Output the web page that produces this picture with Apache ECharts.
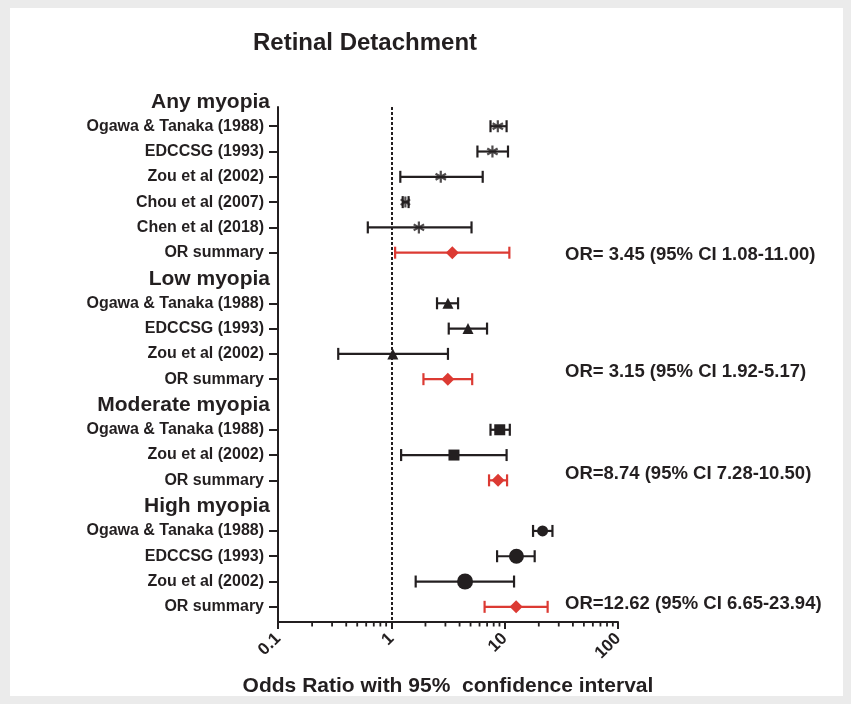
<!DOCTYPE html>
<html>
<head>
<meta charset="utf-8">
<script src="https://cdn.jsdelivr.net/npm/echarts@6/dist/echarts.min.js"></script>
<style>
html,body{margin:0;padding:0;background:#ebebeb;}
#chart{width:851px;height:704px;}
</style>
</head>
<body>
<div id="chart"></div>
<script>
// ---------- data ----------
const chartTitle = 'Retinal Detachment';
const axisTitle = 'Odds Ratio with 95%  confidence interval';
const xTicks = [0.1, 1, 10, 100];
const groupNames = ['Any myopia', 'Low myopia', 'Moderate myopia', 'High myopia'];

const anyStudies = ['Ogawa & Tanaka (1988)', 'EDCCSG (1993)', 'Zou et al (2002)', 'Chou et al (2007)', 'Chen et al (2018)', 'OR summary'];
const anyOR = [8.7, 7.8, 2.73, 1.33, 1.75, 3.45];
const anyLo = [7.5, 5.75, 1.2, 1.26, 0.62, 1.08];
const anyHi = [10.4, 10.7, 6.4, 1.42, 5.1, 11.00];

const lowStudies = ['Ogawa & Tanaka (1988)', 'EDCCSG (1993)', 'Zou et al (2002)', 'OR summary'];
const lowOR = [3.16, 4.75, 1.03, 3.15];
const lowLo = [2.53, 3.21, 0.34, 1.92];
const lowHi = [3.88, 6.99, 3.16, 5.17];

const modStudies = ['Ogawa & Tanaka (1988)', 'Zou et al (2002)', 'OR summary'];
const modOR = [9.05, 3.57, 8.74];
const modLo = [7.5, 1.22, 7.28];
const modHi = [11.1, 10.4, 10.50];

const highStudies = ['Ogawa & Tanaka (1988)', 'EDCCSG (1993)', 'Zou et al (2002)', 'OR summary'];
const highOR = [21.6, 12.7, 4.47, 12.62];
const highLo = [17.8, 8.57, 1.64, 6.65];
const highHi = [26.4, 18.4, 12.1, 23.94];

const summaryText = [
  'OR= 3.45 (95% CI 1.08-11.00)',
  'OR= 3.15 (95% CI 1.92-5.17)',
  'OR=8.74 (95% CI 7.28-10.50)',
  'OR=12.62 (95% CI 6.65-23.94)'
];

// ---------- styling ----------
const BLACK = '#231f20';
const RED = '#dc3a33';
const FONT = '"Liberation Sans", Arial, Helvetica, sans-serif';
const markerStyle = [
  { symbol: 'path://M5,0L5,10M0.67,2.5L9.33,7.5M0.67,7.5L9.33,2.5', sizes: [12, 12, 12, 11, 12], stroke: true },
  { symbol: 'triangle', sizes: [11, 11, 11] },
  { symbol: 'rect', sizes: [11, 11] },
  { symbol: 'circle', sizes: [11, 15, 16] }
];
const summaryTextDy = [2, -7, -6, -3];

// ---------- build rows ----------
const groups = [
  { studies: anyStudies, or: anyOR, lo: anyLo, hi: anyHi },
  { studies: lowStudies, or: lowOR, lo: lowLo, hi: lowHi },
  { studies: modStudies, or: modOR, lo: modLo, hi: modHi },
  { studies: highStudies, or: highOR, lo: highLo, hi: highHi }
];
const rowLabel = {};
const headerRows = [];
const studyRows = [];
const ciData = [];
const markerData = [[], [], [], []];
const summaryPts = [];
const summaryLabels = [];
let idx = 0;
groups.forEach((g, gi) => {
  headerRows.push([idx, groupNames[gi]]);
  idx++;
  g.studies.forEach((s, si) => {
    rowLabel[idx] = s;
    studyRows.push(idx);
    const isSum = s === 'OR summary';
    ciData.push([g.lo[si], g.hi[si], idx, isSum ? 1 : 0]);
    if (isSum) {
      summaryPts.push([g.or[si], idx]);
      summaryLabels.push([idx, summaryText[gi], gi]);
    } else {
      markerData[gi].push([g.or[si], idx]);
    }
    idx++;
  });
});
const yMin = 0.24, yMax = 20.6;

const chart = echarts.init(document.getElementById('chart'));

const markerSeries = markerData.map((d, gi) => {
  const ms = markerStyle[gi];
  return {
    type: 'scatter',
    data: d,
    symbol: ms.symbol,
    symbolKeepAspect: true,
    symbolSize: (v, p) => ms.sizes[p.dataIndex],
    itemStyle: ms.stroke ? { color: 'none', borderColor: BLACK, borderWidth: 2.2 } : { color: BLACK, opacity: 1 },
    z: 5,
    silent: true
  };
});

chart.setOption({
  animation: false,
  backgroundColor: '#ebebeb',
  graphic: [{
    type: 'rect', shape: { x: 10, y: 8, width: 833, height: 688 },
    style: { fill: '#ffffff' }, z: -10, silent: true
  }],
  title: {
    text: chartTitle, left: 253, top: 31, padding: 0,
    textStyle: { fontFamily: FONT, fontSize: 24, fontWeight: 'bold', color: BLACK }
  },
  grid: { left: 278, right: 233, top: 107, bottom: 82, containLabel: false, outerBoundsMode: 'none' },
  xAxis: {
    type: 'log', logBase: 10, min: 0.1, max: 100,
    splitLine: { show: false },
    axisLine: { show: true, onZero: false, lineStyle: { color: BLACK, width: 2 } },
    axisTick: { show: true, length: 7, lineStyle: { color: BLACK, width: 2 } },
    axisLabel: {
      rotate: 45, margin: 14, fontFamily: FONT, fontSize: 17, fontWeight: 'bold', color: BLACK,
      formatter: v => String(+Number(v).toPrecision(3))
    },
    name: axisTitle, nameLocation: 'middle', nameGap: 54,
    nameTextStyle: { fontFamily: FONT, fontSize: 21, fontWeight: 'bold', color: BLACK }
  },
  yAxis: {
    type: 'value', inverse: true, min: yMin, max: yMax,
    splitLine: { show: false },
    axisLine: { show: true, onZero: false, lineStyle: { color: BLACK, width: 2 } },
    axisTick: { show: true, length: 9, customValues: studyRows, lineStyle: { color: BLACK, width: 2 } },
    axisLabel: {
      customValues: studyRows, margin: 14,
      fontFamily: FONT, fontSize: 16, fontWeight: 'bold', color: BLACK,
      formatter: v => rowLabel[Math.round(v)] || ''
    }
  },
  series: [
    {
      type: 'custom',
      name: 'minorTicks',
      data: xTicks.slice(0, -1).flatMap(t => [2, 3, 4, 5, 6, 7, 8, 9].map(m => [+(t * m).toPrecision(3)])),
      encode: { x: 0 },
      clip: false,
      silent: true,
      renderItem: (params, api) => {
        const p = api.coord([api.value(0), yMax]);
        return { type: 'line', shape: { x1: p[0], y1: p[1], x2: p[0], y2: p[1] + 4.5 }, style: { stroke: BLACK, lineWidth: 1.8 } };
      }
    },
    {
      type: 'custom',
      name: 'ci',
      data: ciData,
      encode: { x: [0, 1], y: 2 },
      silent: true,
      z: 3,
      markLine: {
        silent: true, symbol: ['none', 'none'], label: { show: false },
        lineStyle: { color: BLACK, type: [3, 2], width: 2 },
        data: [{ xAxis: 1 }]
      },
      renderItem: (params, api) => {
        const y = api.value(2);
        const a = api.coord([api.value(0), y]);
        const b = api.coord([api.value(1), y]);
        const c = api.value(3) ? RED : BLACK;
        const h = 6;
        const st = { stroke: c, lineWidth: 2.2 };
        return {
          type: 'group', children: [
            { type: 'line', shape: { x1: a[0], y1: a[1], x2: b[0], y2: b[1] }, style: st },
            { type: 'line', shape: { x1: a[0], y1: a[1] - h, x2: a[0], y2: a[1] + h }, style: st },
            { type: 'line', shape: { x1: b[0], y1: b[1] - h, x2: b[0], y2: b[1] + h }, style: st }
          ]
        };
      }
    },
    ...markerSeries,
    {
      type: 'scatter',
      data: summaryPts,
      symbol: 'diamond',
      symbolSize: 13,
      itemStyle: { color: RED, opacity: 1 },
      z: 6,
      silent: true
    },
    {
      type: 'custom',
      name: 'headers',
      data: headerRows,
      encode: { y: 0 },
      clip: false,
      silent: true,
      renderItem: (params, api) => {
        const p = api.coord([0.1, api.value(0)]);
        return {
          type: 'text',
          style: {
            x: p[0] - 8, y: p[1] + 1, text: headerRows[params.dataIndex][1],
            align: 'right', verticalAlign: 'middle',
            font: 'bold 21px ' + FONT, fill: BLACK
          }
        };
      }
    },
    {
      type: 'custom',
      name: 'summaryText',
      data: summaryLabels,
      encode: { y: 0 },
      clip: false,
      silent: true,
      renderItem: (params, api) => {
        const item = summaryLabels[params.dataIndex];
        const p = api.coord([100, item[0]]);
        return {
          type: 'text',
          style: {
            x: p[0] - 53, y: p[1] + summaryTextDy[item[2]], text: item[1],
            align: 'left', verticalAlign: 'middle',
            font: 'bold 18.5px ' + FONT, fill: BLACK
          }
        };
      }
    }
  ]
});
</script>
</body>
</html>
